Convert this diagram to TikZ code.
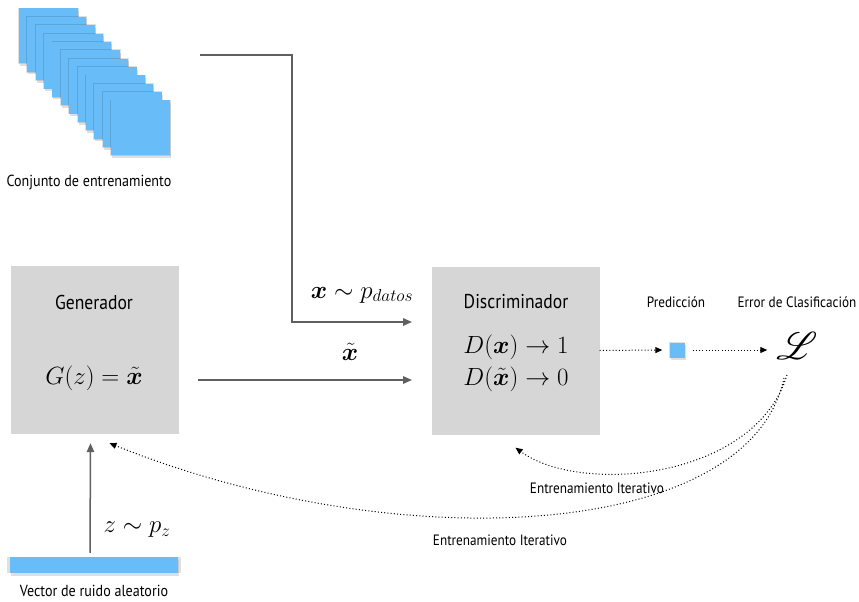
\documentclass[tikz,border=0pt]{standalone}
\usepackage{amsmath,amssymb,bm}
\usepackage{mathrsfs}
\usepackage[no-math]{fontspec}
\setsansfont{PT Sans}[FakeStretch=0.88]
\usetikzlibrary{arrows.meta,shadows}

\definecolor{boxgray}{RGB}{214,214,214}
\definecolor{sampleblue}{RGB}{104,188,248}
\definecolor{flowgray}{RGB}{96,96,96}

\tikzset{
  box/.style={fill=boxgray, minimum width=168pt, minimum height=168pt, inner sep=0pt},
  sample/.style={fill=sampleblue, inner sep=0pt,
    general shadow={shadow scale=1.03, fill=black, opacity=0.12},
    drop shadow={shadow xshift=1pt, shadow yshift=-2.5pt, opacity=0.25}},
  title/.style={font=\sffamily\fontsize{20}{22}\selectfont},
  caption/.style={font=\sffamily\fontsize{15}{17}\selectfont},
  formula/.style={font=\fontsize{23}{25}\selectfont},
  flow/.style={draw=flowgray, line width=1.5pt, -{Triangle[length=9pt,width=7.5pt]}},
  iter/.style={black, line width=1pt, dash pattern=on 1pt off 2.2pt, -{Triangle[length=7pt,width=6pt]}},
}

\begin{document}
\begin{tikzpicture}[x=1pt,y=-1pt]
\useasboundingbox[fill=white] (0,0) rectangle (859,602);
% Training set: stack of samples
\foreach \i in {0,...,11}
  \node[sample, minimum width=59pt, minimum height=55pt] (s\i) at ({48.5+8.36*\i},{36+8.36*\i}) {};
\node[caption, font=\sffamily\fontsize{16}{18}\selectfont] (setlabel) at (89,182) {Conjunto de entrenamiento};
% Generator
\node[box] (gen) at (94.5,350) {};
\node[title] (gentitle) at (94,302) {Generador};
\node[formula] (genf) at (94,378) {$G(z) = \tilde{\bm{x}}$};
% Discriminator
\node[box] (disc) at (515.5,350.5) {};
\node[title] (disctitle) at (516,302) {Discriminador};
\node[formula] (discreal) at (516,347) {$D(\bm{x}) \to 1$};
\node[formula] (discfake) at (516,379) {$D(\tilde{\bm{x}}) \to 0$};
% Noise vector
\node[sample, minimum width=168pt, minimum height=16pt] (noise) at (94,565) {};
\node[caption, font=\sffamily\fontsize{16}{18}\selectfont] (noiselabel) at (94,591) {Vector de ruido aleatorio};
% Prediction and loss
\node[sample, minimum width=15pt, minimum height=15pt] (pred) at (677,350) {};
\node[caption] (predtitle) at (676,302) {Predicción};
\node[font=\fontsize{24}{26}\selectfont, inner sep=1pt] (loss) at (797,346) {\scalebox{1.55}{$\mathscr{L}$}};
\node[caption] (losstitle) at (797,302) {Error de Clasificación};
% Data flow
\coordinate (dataout) at (200,55);
\coordinate (bend) at (292,55);
\coordinate (datain) at (412,322);
\draw[flow] (dataout) -- (bend) |- (datain);
\node[formula, font=\fontsize{24}{26}\selectfont] (datalabel) at (362,295) {$\bm{x} \sim p_{datos}$};
\coordinate (fakeout) at (198,380);
\coordinate (fakein) at (412,380);
\draw[flow] (fakeout) -- (fakein);
\node[formula] (fakelabel) at (350,352) {$\tilde{\bm{x}}$};
\draw[flow] ([xshift=-4pt,yshift=4pt]noise.north) -- ([xshift=-4pt,yshift=-9pt]gen.south);
\node[formula, font=\fontsize{24}{26}\selectfont] (noisearrow) at (137,530) {$z \sim p_z$};
% Prediction path
\draw[iter] (disc.east) -- ([xshift=-7pt]pred.west);
\draw[iter] ([xshift=8pt]pred.east) -- ([xshift=-8pt,yshift=-4pt]loss.west);
% Iterative training
\coordinate (lossout) at (787,375);
\coordinate (lossout2) at (784,378);
\draw[iter] (lossout) .. controls (755,480) and (580,495) .. ([yshift=-13pt]disc.south);
\node[caption] (iterdisc) at (597,488) {Entrenamiento Iterativo};
\draw[iter] (lossout2) .. controls (750,540) and (400,560) .. ([xshift=15pt,yshift=-9pt]gen.south);
\node[caption] (itergen) at (500,540) {Entrenamiento Iterativo};
\end{tikzpicture}
\end{document}
